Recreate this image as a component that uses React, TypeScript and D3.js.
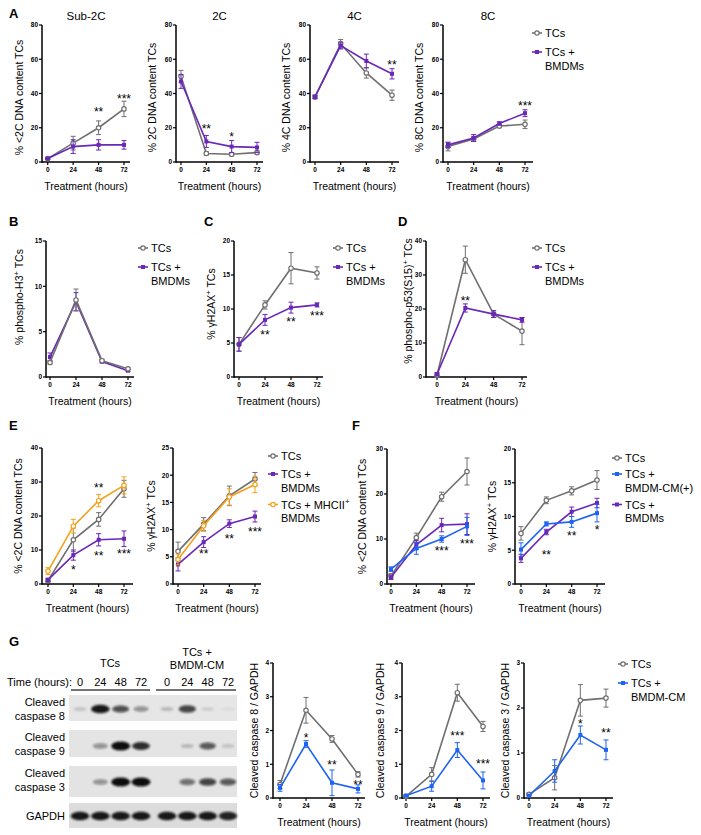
import React from 'react';
import * as d3 from 'd3';

const hours = [0, 24, 48, 72];

// ---------- Panel A ----------
const aSub2cTCs = [2, 11, 20, 31];
const aSub2cTCsErr = [0.5, 4, 4, 4.5];
const aSub2cBMDM = [2, 9, 10, 10];
const aSub2cBMDMErr = [0.5, 4, 3, 2.5];
const a2cTCs = [50, 5, 4.5, 5.5];
const a2cTCsErr = [3.5, 1, 1, 1];
const a2cBMDM = [47, 12, 9, 8.5];
const a2cBMDMErr = [4, 3.5, 3.5, 3];
const a4cTCs = [38, 69, 52, 39];
const a4cTCsErr = [1, 2.5, 3, 3];
const a4cBMDM = [38, 68, 59, 51.5];
const a4cBMDMErr = [1, 2, 4, 3];
const a8cTCs = [9, 13.5, 21, 22];
const a8cTCsErr = [2.5, 1.5, 1, 2.5];
const a8cBMDM = [10, 14, 22.5, 28.5];
const a8cBMDMErr = [1.5, 2, 1, 2];
const aTicks = [0, 20, 40, 60, 80];

// ---------- Panel B ----------
const bTCs = [1.6, 8.5, 1.8, 0.9];
const bTCsErr = [0.2, 1.2, 0.15, 0.1];
const bBMDM = [2.2, 8.3, 1.7, 0.7];
const bBMDMErr = [0.45, 1, 0.15, 0.1];
const bTicks = [0, 5, 10, 15];

// ---------- Panel C ----------
const cTCs = [4.8, 10.6, 16, 15.3];
const cTCsErr = [1, 0.6, 2.3, 0.9];
const cBMDM = [4.8, 8.4, 10.2, 10.6];
const cBMDMErr = [1, 0.8, 0.8, 0.3];
const cTicks = [0, 5, 10, 15, 20];

// ---------- Panel D ----------
const dTCs = [0.5, 34.5, 18.5, 13.5];
const dTCsErr = [0.5, 4, 1, 4];
const dBMDM = [0.8, 20.3, 18.5, 16.8];
const dBMDMErr = [0.5, 1.2, 1, 0.7];
const dTicks = [0, 10, 20, 30, 40];

// ---------- Panel E ----------
const e1TCs = [1, 13, 19, 28];
const e1TCsErr = [0.5, 3.5, 2, 2.5];
const e1BMDM = [1.2, 8.5, 13, 13.3];
const e1BMDMErr = [0.5, 1.5, 1.8, 2.3];
const e1MHC = [3.8, 17, 24.5, 29];
const e1MHCErr = [1, 2, 1.8, 2.5];
const e1Ticks = [0, 10, 20, 30, 40];
const e2TCs = [6, 11, 16.2, 19.3];
const e2TCsErr = [1.7, 1.2, 1.8, 1.2];
const e2BMDM = [3.6, 7.7, 11.1, 12.4];
const e2BMDMErr = [1.2, 1, 0.7, 1];
const e2MHC = [4.5, 10.7, 16, 18.3];
const e2MHCErr = [1, 1, 1.5, 1.5];
const e2Ticks = [0, 5, 10, 15, 20, 25];

// ---------- Panel F ----------
const f1TCs = [1.8, 10.3, 19.4, 25];
const f1TCsErr = [0.5, 1, 1, 3];
const f1BMDM = [1.5, 8.7, 13.1, 13.3];
const f1BMDMErr = [0.5, 1, 1.5, 2.3];
const f1CM = [3.3, 7.9, 10, 12.8];
const f1CMErr = [0.5, 1.3, 0.7, 2];
const f1Ticks = [0, 10, 20, 30];
const f2TCs = [7.5, 12.4, 13.8, 15.4];
const f2TCsErr = [1, 0.5, 0.6, 1.4];
const f2CM = [5.1, 8.9, 9.2, 10.5];
const f2CMErr = [1, 0.3, 0.8, 1.3];
const f2BMDM = [3.8, 7.7, 10.7, 12];
const f2BMDMErr = [0.6, 0.4, 0.7, 0.7];
const f2Ticks = [0, 5, 10, 15, 20];

// ---------- Panel G ----------
const g8TCs = [0.4, 2.6, 1.75, 0.7];
const g8TCsErr = [0.12, 0.38, 0.1, 0.08];
const g8CM = [0.3, 1.6, 0.45, 0.27];
const g8CMErr = [0.1, 0.1, 0.38, 0.12];
const g9TCs = [0.05, 0.7, 3.12, 2.12];
const g9TCsErr = [0.03, 0.2, 0.25, 0.15];
const g9CM = [0.07, 0.35, 1.42, 0.52];
const g9CMErr = [0.03, 0.15, 0.22, 0.25];
const g3TCs = [0.08, 0.45, 2.17, 2.22];
const g3TCsErr = [0.03, 0.27, 0.35, 0.2];
const g3CM = [0.05, 0.6, 1.4, 1.07];
const g3CMErr = [0.03, 0.25, 0.2, 0.22];
const g4Ticks = [0, 1, 2, 3, 4];
const g3Ticks = [0, 1, 2, 3];

// Western blot band intensities (0 = none, 1 = saturated), lanes 0/24/48/72
const laneLabels = ['0', '24', '48', '72'];
const blotCasp8TCs = [0.15, 0.95, 0.7, 0.4];
const blotCasp8CM = [0.2, 0.75, 0.12, 0.05];
const blotCasp9TCs = [0, 0.4, 1, 0.85];
const blotCasp9CM = [0, 0.2, 0.65, 0.15];
const blotCasp3TCs = [0, 0.4, 1, 1];
const blotCasp3CM = [0, 0.55, 0.75, 0.65];
const blotGapdhTCs = [0.95, 0.95, 0.95, 0.95];
const blotGapdhCM = [0.95, 0.95, 0.95, 0.9];

// ---------- styles ----------
const GRAY = '#6f6f6f';
const PURPLE = '#6a27b8';
const BLUE = '#1f63f2';
const ORANGE = '#f5a11c';
const FONT = 'Liberation Sans, Arial, Helvetica, sans-serif';

type Marker = 'open' | 'square' | 'openOrange';
type Series = { values: number[]; errors: number[]; color: string; marker: Marker };
type Star = { h: number; v: number; t: string };
type Seg = { t: string; sup?: boolean };
type Layout = { axisX: number; x0: number; x72: number; xEnd: number; yTop: number; yBottom: number; labelX: number; labelDy?: number };

const S_TCS = (v: number[], e: number[]): Series => ({ values: v, errors: e, color: GRAY, marker: 'open' });
const S_BMDM = (v: number[], e: number[]): Series => ({ values: v, errors: e, color: PURPLE, marker: 'square' });
const S_CM = (v: number[], e: number[]): Series => ({ values: v, errors: e, color: BLUE, marker: 'square' });
const S_MHC = (v: number[], e: number[]): Series => ({ values: v, errors: e, color: ORANGE, marker: 'openOrange' });

function MarkerShape({ x, y, color, marker }: { x: number; y: number; color: string; marker: Marker }) {
  if (marker === 'square') return <rect x={x - 2} y={y - 2} width={4} height={4} fill={color} />;
  return <circle cx={x} cy={y} r={2.2} fill="#fff" stroke={color} strokeWidth={1.2} />;
}

function Label({ segs, size }: { segs: Seg[]; size: number }) {
  const out: React.ReactNode[] = [];
  let shifted = false;
  segs.forEach((s, i) => {
    if (s.sup) {
      out.push(<tspan key={i} dy={-size * 0.42} fontSize={size * 0.72}>{s.t}</tspan>);
      shifted = true;
    } else {
      out.push(<tspan key={i} dy={shifted ? size * 0.42 : 0}>{s.t}</tspan>);
      shifted = false;
    }
  });
  return <>{out}</>;
}

function LineChart({ L, yMax, ticks, series, stars, yLabel, title }: { L: Layout; yMax: number; ticks: number[]; series: Series[]; stars: Star[]; yLabel: Seg[]; title?: string }) {
  const x = d3.scaleLinear().domain([0, 72]).range([L.x0, L.x72]);
  const y = d3.scaleLinear().domain([0, yMax]).range([L.yBottom, L.yTop]);
  const line = d3.line<number>().x((_, i) => x(hours[i])).y((d) => y(d));
  const midY = (L.yTop + L.yBottom) / 2 + (L.labelDy || 0);
  return (
    <g fontFamily={FONT}>
      {title && (
        <text x={(L.axisX + L.xEnd) / 2} y={L.yTop - 5} fontSize={11.5} textAnchor="middle">{title}</text>
      )}
      {/* axes */}
      <line x1={L.axisX} x2={L.axisX} y1={L.yBottom + 0.75} y2={L.yTop} stroke="#000" strokeWidth={1.5} />
      <line x1={L.axisX} x2={L.xEnd} y1={L.yBottom} y2={L.yBottom} stroke="#000" strokeWidth={1.5} />
      {ticks.map((t) => (
        <g key={'y' + t}>
          <line x1={L.axisX - 3} x2={L.axisX} y1={y(t)} y2={y(t)} stroke="#000" strokeWidth={1.2} />
          <text x={L.axisX - 4} y={y(t) + 2.3} fontSize={6.5} fontWeight="bold" textAnchor="end">{t}</text>
        </g>
      ))}
      {hours.map((h) => (
        <g key={'x' + h}>
          <line x1={x(h)} x2={x(h)} y1={L.yBottom} y2={L.yBottom + 3} stroke="#000" strokeWidth={1.2} />
          <text x={x(h)} y={L.yBottom + 9.5} fontSize={6.5} fontWeight="bold" textAnchor="middle">{h}</text>
        </g>
      ))}
      <text x={(L.axisX + L.xEnd) / 2} y={L.yBottom + 28} fontSize={10.5} textAnchor="middle">Treatment (hours)</text>
      <text transform={`translate(${L.labelX},${midY}) rotate(-90)`} fontSize={10.5} textAnchor="middle">
        <Label segs={yLabel} size={10.5} />
      </text>
      {/* series */}
      {series.map((s, si) => (
        <g key={si}>
          {s.values.map((v, i) => {
            const cx = x(hours[i]);
            const e = s.errors[i];
            return (
              <g key={i} stroke={s.color} strokeWidth={1}>
                <line x1={cx} x2={cx} y1={y(v - e)} y2={y(v + e)} />
                <line x1={cx - 2.5} x2={cx + 2.5} y1={y(v + e)} y2={y(v + e)} />
                <line x1={cx - 2.5} x2={cx + 2.5} y1={y(Math.max(0, v - e))} y2={y(Math.max(0, v - e))} />
              </g>
            );
          })}
          <path d={line(s.values) || ''} fill="none" stroke={s.color} strokeWidth={1.6} />
          {s.values.map((v, i) => (
            <MarkerShape key={i} x={x(hours[i])} y={y(v)} color={s.color} marker={s.marker} />
          ))}
        </g>
      ))}
      {stars.map((st, i) => (
        <text key={i} x={x(st.h)} y={y(st.v) + 6.5} fontSize={12} textAnchor="middle">{st.t}</text>
      ))}
    </g>
  );
}

type LegendItem = { lines: Seg[][]; color: string; marker: Marker };
function Legend({ x, y, items, gaps }: { x: number; y: number; items: LegendItem[]; gaps: number[] }) {
  let cy = y;
  const nodes: React.ReactNode[] = [];
  items.forEach((it, i) => {
    if (i > 0) cy += gaps[i - 1];
    const yy = cy;
    nodes.push(
      <g key={i}>
        <line x1={x} x2={x + 10} y1={yy} y2={yy} stroke={it.color} strokeWidth={1.6} />
        <MarkerShape x={x + 5} y={yy} color={it.color} marker={it.marker} />
        {it.lines.map((ln, j) => (
          <text key={j} x={x + 13} y={yy + 4 + j * 13.5} fontSize={11} fontFamily={FONT}>
            <Label segs={ln} size={11} />
          </text>
        ))}
      </g>
    );
    cy += (it.lines.length - 1) * 13.5;
  });
  return <g>{nodes}</g>;
}

const legTCs: LegendItem = { lines: [[{ t: 'TCs' }]], color: GRAY, marker: 'open' };
const legBMDM: LegendItem = { lines: [[{ t: 'TCs +' }], [{ t: 'BMDMs' }]], color: PURPLE, marker: 'square' };
const legMHC: LegendItem = { lines: [[{ t: 'TCs + MHCII' }, { t: '+', sup: true }], [{ t: 'BMDMs' }]], color: ORANGE, marker: 'openOrange' };
const legCMp: LegendItem = { lines: [[{ t: 'TCs +' }], [{ t: 'BMDM-CM(+)' }]], color: BLUE, marker: 'square' };
const legCM: LegendItem = { lines: [[{ t: 'TCs +' }], [{ t: 'BMDM-CM' }]], color: BLUE, marker: 'square' };

function PanelLetter({ x, y, t }: { x: number; y: number; t: string }) {
  return <text x={x} y={y} fontSize={13} fontWeight="bold" fontFamily={FONT}>{t}</text>;
}

function Blot() {
  const tcsX = d3.scalePoint<string>().domain(laneLabels).range([80, 141]);
  const cmX = d3.scalePoint<string>().domain(laneLabels).range([167, 228]);
  const rows = [
    { top: 695, h: 26, bandY: 709, tcs: blotCasp8TCs, cm: blotCasp8CM, bg: '#e6e6e6', lab: ['Cleaved', 'caspase 8'] },
    { top: 730, h: 27, bandY: 746, tcs: blotCasp9TCs, cm: blotCasp9CM, bg: '#e4e4e4', lab: ['Cleaved', 'caspase 9'] },
    { top: 766, h: 31, bandY: 782, tcs: blotCasp3TCs, cm: blotCasp3CM, bg: '#e3e3e3', lab: ['Cleaved', 'caspase 3'] },
    { top: 803, h: 25, bandY: 816, tcs: blotGapdhTCs, cm: blotGapdhCM, bg: '#dcdcdc', lab: ['GAPDH'] },
  ];
  return (
    <g fontFamily={FONT}>
      <defs>
        <filter id="blur" x="-50%" y="-100%" width="200%" height="300%">
          <feGaussianBlur stdDeviation="1.3" />
        </filter>
      </defs>
      <text x={110} y={667} fontSize={11} textAnchor="middle">TCs</text>
      <text x={197} y={656} fontSize={11} textAnchor="middle">TCs +</text>
      <text x={197} y={669} fontSize={11} textAnchor="middle">BMDM-CM</text>
      <text x={7} y={686} fontSize={11}>Time (hours):</text>
      {laneLabels.map((l) => (
        <g key={l}>
          <text x={tcsX(l)} y={686} fontSize={11} textAnchor="middle">{l}</text>
          <text x={cmX(l)} y={686} fontSize={11} textAnchor="middle">{l}</text>
        </g>
      ))}
      <line x1={71} x2={150} y1={690} y2={690} stroke="#444" strokeWidth={1.5} />
      <line x1={156} x2={236} y1={690} y2={690} stroke="#444" strokeWidth={1.5} />
      {rows.map((r, ri) => (
        <g key={ri}>
          <rect x={69} y={r.top} width={168} height={r.h} fill={r.bg} />
          {r.lab.length === 2 ? (
            <>
              <text x={65} y={r.top + 11} fontSize={11} textAnchor="end">{r.lab[0]}</text>
              <text x={65} y={r.top + 25} fontSize={11} textAnchor="end">{r.lab[1]}</text>
            </>
          ) : (
            <text x={65} y={r.top + 17} fontSize={11} textAnchor="end">{r.lab[0]}</text>
          )}
          <g filter="url(#blur)">
            {laneLabels.map((l, i) => {
              const a = r.tcs[i];
              const b = r.cm[i];
              return (
                <g key={l}>
                  {a > 0 && <ellipse cx={tcsX(l)} cy={r.bandY} rx={6 + 3.5 * a} ry={1.5 + 3 * a} fill="#111" opacity={Math.min(1, a)} />}
                  {b > 0 && <ellipse cx={cmX(l)} cy={r.bandY} rx={6 + 3.5 * b} ry={1.5 + 3 * b} fill="#111" opacity={Math.min(1, b)} />}
                </g>
              );
            })}
          </g>
        </g>
      ))}
    </g>
  );
}

const pct = (s: string): Seg[] => [{ t: s }];
const yh2ax: Seg[] = [{ t: '% γH2AX' }, { t: '+', sup: true }, { t: ' TCs' }];

export default function App() {
  return (
    <svg width={701} height={835} style={{ position: 'absolute', left: 0, top: 0, background: '#fff' }}>
      <rect x={0} y={0} width={701} height={835} fill="#fff" />
      {/* Panel A */}
      <PanelLetter x={9} y={18} t="A" />
      <LineChart L={{ axisX: 42, x0: 47.7, x72: 124, xEnd: 130, yTop: 25, yBottom: 162, labelX: 23, labelDy: 4 }} yMax={80} ticks={aTicks}
        series={[S_TCS(aSub2cTCs, aSub2cTCsErr), S_BMDM(aSub2cBMDM, aSub2cBMDMErr)]}
        stars={[{ h: 48, v: 30.5, t: '**' }, { h: 72, v: 38, t: '***' }]} yLabel={pct('% <2C DNA content TCs')} title="Sub-2C" />
      <LineChart L={{ axisX: 176, x0: 181, x72: 257, xEnd: 263, yTop: 25, yBottom: 162, labelX: 156, labelDy: 4 }} yMax={80} ticks={aTicks}
        series={[S_TCS(a2cTCs, a2cTCsErr), S_BMDM(a2cBMDM, a2cBMDMErr)]}
        stars={[{ h: 24, v: 20.5, t: '**' }, { h: 48, v: 16, t: '*' }]} yLabel={pct('% 2C DNA content TCs')} title="2C" />
      <LineChart L={{ axisX: 310, x0: 315, x72: 392, xEnd: 399, yTop: 25, yBottom: 162, labelX: 290, labelDy: 4 }} yMax={80} ticks={aTicks}
        series={[S_TCS(a4cTCs, a4cTCsErr), S_BMDM(a4cBMDM, a4cBMDMErr)]}
        stars={[{ h: 72, v: 58, t: '**' }]} yLabel={pct('% 4C DNA content TCs')} title="4C" />
      <LineChart L={{ axisX: 443, x0: 448, x72: 525, xEnd: 533, yTop: 25, yBottom: 162, labelX: 423, labelDy: 4 }} yMax={80} ticks={aTicks}
        series={[S_TCS(a8cTCs, a8cTCsErr), S_BMDM(a8cBMDM, a8cBMDMErr)]}
        stars={[{ h: 72, v: 34, t: '***' }]} yLabel={pct('% 8C DNA content TCs')} title="8C" />
      <Legend x={532} y={33} items={[legTCs, legBMDM]} gaps={[19]} />

      {/* Panel B */}
      <PanelLetter x={9} y={226} t="B" />
      <LineChart L={{ axisX: 46, x0: 50, x72: 128, xEnd: 134, yTop: 241, yBottom: 377, labelX: 23, labelDy: -12 }} yMax={15} ticks={bTicks}
        series={[S_BMDM(bBMDM, bBMDMErr), S_TCS(bTCs, bTCsErr)]} stars={[]}
        yLabel={[{ t: '%  phospho-H3' }, { t: '+', sup: true }, { t: ' TCs' }]} />
      <Legend x={138} y={248} items={[legTCs, legBMDM]} gaps={[19]} />

      {/* Panel C */}
      <PanelLetter x={204} y={226} t="C" />
      <LineChart L={{ axisX: 234, x0: 239, x72: 317, xEnd: 323, yTop: 241, yBottom: 377, labelX: 215, labelDy: -5 }} yMax={20} ticks={cTicks}
        series={[S_TCS(cTCs, cTCsErr), S_BMDM(cBMDM, cBMDMErr)]}
        stars={[{ h: 24, v: 6.6, t: '**' }, { h: 48, v: 8.4, t: '**' }, { h: 72, v: 9.4, t: '***' }]} yLabel={yh2ax} />
      <Legend x={333} y={248} items={[legTCs, legBMDM]} gaps={[19]} />

      {/* Panel D */}
      <PanelLetter x={398} y={226} t="D" />
      <LineChart L={{ axisX: 426, x0: 437, x72: 522, xEnd: 527, yTop: 241, yBottom: 377, labelX: 412, labelDy: -8 }} yMax={40} ticks={dTicks}
        series={[S_TCS(dTCs, dTCsErr), S_BMDM(dBMDM, dBMDMErr)]}
        stars={[{ h: 24, v: 23.2, t: '**' }]} yLabel={[{ t: '% phospho-p53(S15)' }, { t: '+', sup: true }, { t: ' TCs' }]} />
      <Legend x={532} y={248} items={[legTCs, legBMDM]} gaps={[19]} />

      {/* Panel E */}
      <PanelLetter x={9} y={430} t="E" />
      <LineChart L={{ axisX: 42, x0: 48, x72: 124, xEnd: 133, yTop: 448, yBottom: 584, labelX: 22 }} yMax={40} ticks={e1Ticks}
        series={[S_TCS(e1TCs, e1TCsErr), S_BMDM(e1BMDM, e1BMDMErr), S_MHC(e1MHC, e1MHCErr)]}
        stars={[{ h: 24, v: 5, t: '*' }, { h: 48, v: 29, t: '**' }, { h: 48, v: 9, t: '**' }, { h: 72, v: 9.7, t: '***' }]}
        yLabel={pct('% <2C DNA content TCs')} />
      <LineChart L={{ axisX: 173, x0: 178, x72: 255, xEnd: 261, yTop: 448, yBottom: 584, labelX: 155 }} yMax={25} ticks={e2Ticks}
        series={[S_TCS(e2TCs, e2TCsErr), S_BMDM(e2BMDM, e2BMDMErr), S_MHC(e2MHC, e2MHCErr)]}
        stars={[{ h: 24, v: 5.9, t: '**' }, { h: 48, v: 8.8, t: '**' }, { h: 72, v: 10, t: '***' }]} yLabel={yh2ax} />
      <Legend x={268} y={456} items={[legTCs, legBMDM, legMHC]} gaps={[18, 17]} />

      {/* Panel F */}
      <PanelLetter x={352} y={430} t="F" />
      <LineChart L={{ axisX: 387, x0: 391, x72: 467, xEnd: 475, yTop: 449, yBottom: 584, labelX: 366 }} yMax={30} ticks={f1Ticks}
        series={[S_TCS(f1TCs, f1TCsErr), S_BMDM(f1BMDM, f1BMDMErr), S_CM(f1CM, f1CMErr)]}
        stars={[{ h: 48, v: 7.8, t: '***' }, { h: 72, v: 9.5, t: '***' }]} yLabel={pct('% <2C DNA content TCs')} />
      <LineChart L={{ axisX: 515, x0: 521, x72: 597, xEnd: 605, yTop: 449, yBottom: 584, labelX: 496 }} yMax={20} ticks={f2Ticks}
        series={[S_TCS(f2TCs, f2TCsErr), S_BMDM(f2BMDM, f2BMDMErr), S_CM(f2CM, f2CMErr)]}
        stars={[{ h: 24, v: 4.7, t: '**' }, { h: 48, v: 7.5, t: '**' }, { h: 72, v: 8.4, t: '*' }]} yLabel={yh2ax} />
      <Legend x={612} y={458} items={[legTCs, legCMp, legBMDM]} gaps={[16, 17]} />

      {/* Panel G */}
      <PanelLetter x={9} y={646} t="G" />
      <Blot />
      <LineChart L={{ axisX: 273, x0: 280, x72: 358, xEnd: 365, yTop: 663, yBottom: 798, labelX: 258 }} yMax={4} ticks={g4Ticks}
        series={[S_TCS(g8TCs, g8TCsErr), S_CM(g8CM, g8CMErr)]}
        stars={[{ h: 24, v: 1.84, t: '*' }, { h: 48, v: 1.04, t: '**' }, { h: 72, v: 0.45, t: '**' }]} yLabel={pct('Cleaved caspase 8 / GAPDH')} />
      <LineChart L={{ axisX: 402, x0: 406, x72: 483, xEnd: 490, yTop: 663, yBottom: 798, labelX: 384 }} yMax={4} ticks={g4Ticks}
        series={[S_TCS(g9TCs, g9TCsErr), S_CM(g9CM, g9CMErr)]}
        stars={[{ h: 48, v: 1.9, t: '***' }, { h: 72, v: 1.07, t: '***' }]} yLabel={pct('Cleaved caspase 9 / GAPDH')} />
      <LineChart L={{ axisX: 524, x0: 529, x72: 606, xEnd: 613, yTop: 663, yBottom: 798, labelX: 509 }} yMax={3} ticks={g3Ticks}
        series={[S_TCS(g3TCs, g3TCsErr), S_CM(g3CM, g3CMErr)]}
        stars={[{ h: 48, v: 1.7, t: '*' }, { h: 72, v: 1.5, t: '**' }]} yLabel={pct('Cleaved caspase 3 / GAPDH')} />
      <Legend x={618} y={664} items={[legTCs, legCM]} gaps={[19]} />
    </svg>
  );
}
